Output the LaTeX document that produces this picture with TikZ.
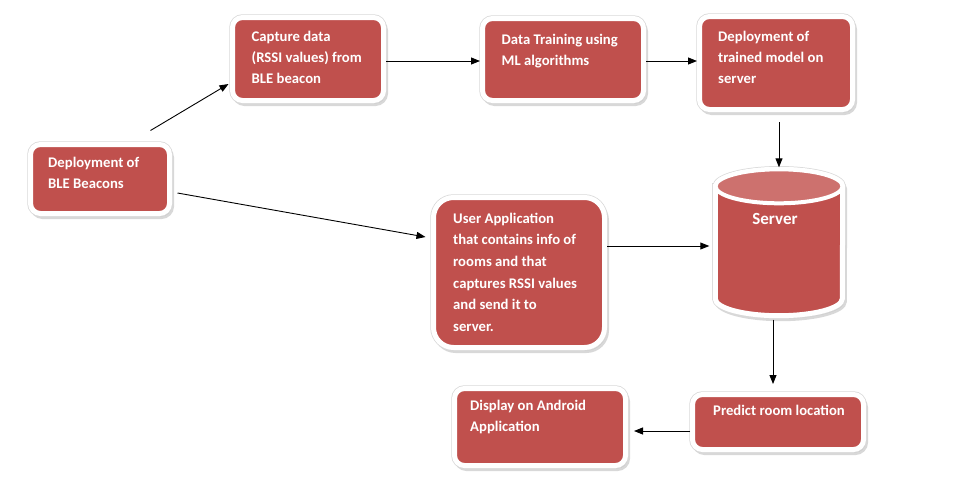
\documentclass[tikz,border=0pt]{standalone}
\usepackage{fontspec}
\setmainfont{Carlito}
\usepackage{xcolor}
\usepackage{tikz}
\usetikzlibrary{shadows,arrows.meta,calc}
\definecolor{boxred}{HTML}{C0504D}
\definecolor{toplight}{HTML}{CD716E}

\begin{document}
\begin{tikzpicture}[x=1pt,y=-1pt,
  shade/.style={drop shadow={shadow xshift=2pt, shadow yshift=-3pt, fill=black!30, draw=black!30, line width=5pt},
    preaction={draw=black!15, line width=6.5pt}},
  blk/.style={shape=rectangle, rounded corners=10pt, fill=boxred, draw=white, line width=5pt, inner sep=0pt, shade},
  cyl/.style={fill=boxred, draw=white, line width=5pt, shade},
  cyltop/.style={fill=toplight, draw=white, line width=4pt},
  txt/.style={anchor=base west, align=left, inner sep=0pt, text=white, font=\bfseries\fontsize{14.7}{21}\selectfont},
  arr/.style={-{Triangle[length=9pt,width=7pt]}, line width=0.9pt}]
\useasboundingbox (0,0) rectangle (972,477);
% boxes
\node[blk, minimum width=139pt, minimum height=69pt] (beacons) at (100,179) {};
\node[blk, minimum width=151pt, minimum height=83pt] (capture) at (308,59) {};
\node[blk, minimum width=161pt, minimum height=82pt] (train) at (563,59.5) {};
\node[blk, minimum width=153pt, minimum height=93pt] (deploy) at (776,63) {};
\node[blk, rounded corners=20pt, minimum width=171pt, minimum height=150pt] (app) at (519,272.5) {};
\node[blk, minimum width=171pt, minimum height=55pt] (predict) at (778,422) {};
\node[blk, minimum width=171pt, minimum height=77pt] (display) at (540,427) {};
% server drum
\node[minimum width=127pt, minimum height=146pt, inner sep=0pt] (server) at (779,242.5) {};
\path[cyl] ($(server.north west)+(0,17)$) -- ($(server.south west)+(0,-17)$)
  arc[start angle=180, end angle=360, x radius=63.5pt, y radius=17pt]
  -- ($(server.north east)+(0,17)$)
  arc[start angle=0, end angle=180, x radius=63.5pt, y radius=17pt] -- cycle;
\draw[cyltop] ($(server.north)+(0,17)$) ellipse[x radius=63.5pt, y radius=17pt];
% texts (placed on the last line)
\node[txt] (beacons-t) at (48,188) {Deployment of\\BLE Beacons};
\node[txt] (capture-t) at (251.5,83) {Capture data\\(RSSI values) from\\BLE beacon};
\node[txt] (train-t) at (501.5,65) {Data Training using\\ML algorithms};
\node[txt] (deploy-t) at (718,83) {Deployment of\\trained model on\\server};
\node[txt, font=\bfseries\fontsize{14.7}{21.7}\selectfont] (app-t) at (453,331.5) {User Application\\that contains info of\\rooms and that\\captures RSSI values\\and send it to\\server.};
\node[txt] (predict-t) at (713,415.5) {Predict room location};
\node[txt] (display-t) at (470,431.5) {Display on Android\\Application};
\node[txt, anchor=base, font=\bfseries\fontsize{17}{20}\selectfont] (server-t) at (775,224) {Server};
% arrows
\draw[arr] ($(beacons.north east)+(-21.5,-11.5)$) -- ($(capture.west)+(-1.5,25)$);
\draw[arr] ($(beacons.east)+(5.5,14)$) -- ($(app.west)+(-5.5,-35.5)$);
\draw[arr] ([yshift=-2pt]capture.east) -- ([yshift=-2pt]capture.east -| train.west);
\draw[arr] ([yshift=-1.5pt]train.east) -- ([yshift=-1.5pt]train.east -| deploy.west);
\draw[arr] ([yshift=-10pt]deploy.south -| server.north) -- ([yshift=2pt]server.north);
\draw[arr, shorten >=6pt] ([yshift=26.5pt]app.east) -- ([yshift=26.5pt]app.east -| server.west);
\draw[arr, shorten >=8pt] ([xshift=-6pt,yshift=-4pt]server.south) -- ([xshift=-6pt]server.south |- predict.north);
\draw[arr, shorten >=6pt] ([yshift=-9pt]predict.west) -- ([yshift=-9pt]predict.west -| display.east);
\end{tikzpicture}
\end{document}
